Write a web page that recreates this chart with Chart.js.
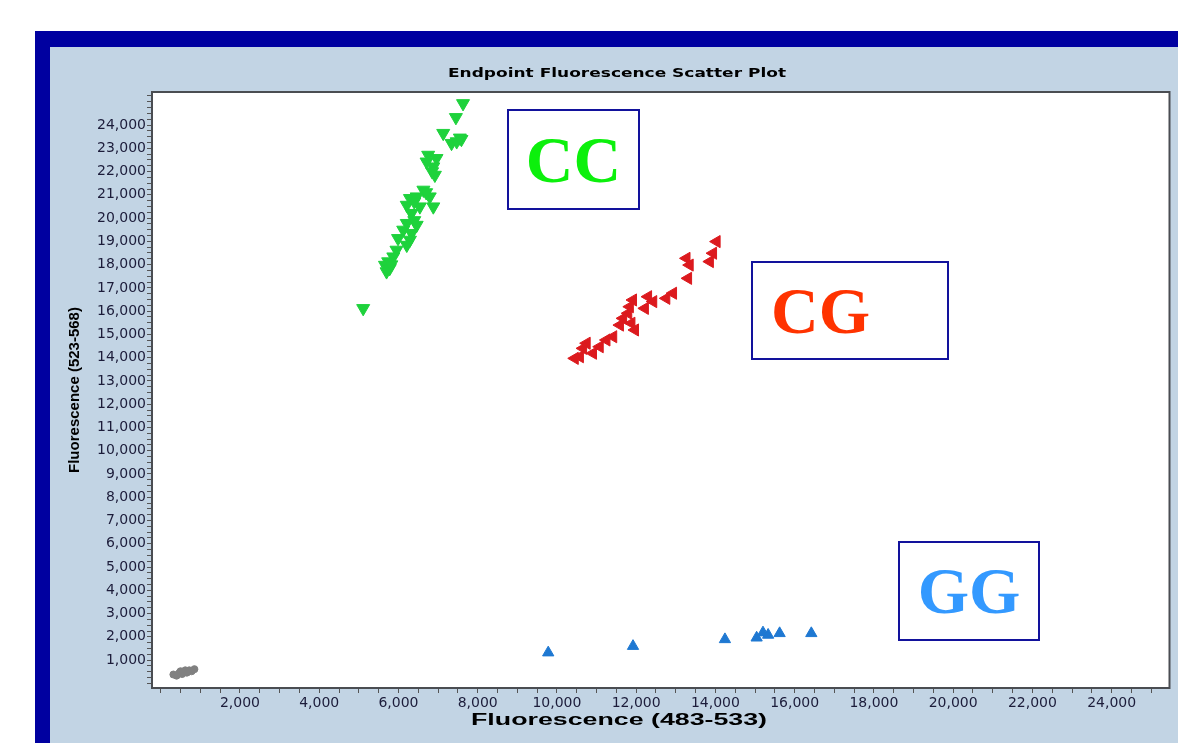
<!DOCTYPE html>
<html>
<head>
<meta charset="utf-8">
<script src="https://cdn.jsdelivr.net/npm/chart.js@4.4.1/dist/chart.umd.min.js"></script>
<style>
  html, body { margin: 0; padding: 0; background: #fff; }
  body { width: 1178px; height: 743px; position: relative; overflow: hidden; }
  .frame { position: absolute; left: 35px; top: 31px; right: 0; bottom: 0; background: #0000a0; }
  .panel { position: absolute; left: 50px; top: 47px; right: 0; bottom: 0; background: #c2d4e4; }
  #wrap { position: absolute; left: 0; top: 0; width: 1178px; height: 743px; }
  .tag {
    position: absolute; box-sizing: border-box; background: #fff;
    border: 2px solid #12129c;
    font-family: "Liberation Serif", "Times New Roman", serif; font-weight: bold;
    font-size: 66px; line-height: 1; display: flex; align-items: center;
  }
</style>
</head>
<body>
<div class="frame"></div>
<div class="panel"></div>
<div id="wrap"><canvas id="scatter" width="1178" height="743"></canvas></div>
<div class="tag" style="left:507px;top:109px;width:133px;height:101px;color:#0cf00c;justify-content:center;">CC</div>
<div class="tag" style="left:751px;top:261px;width:198px;height:99px;color:#ff3300;padding-left:18px;">CG</div>
<div class="tag" style="left:898px;top:541px;width:142px;height:100px;color:#3399ff;justify-content:center;">GG</div>
<script>
// valeurs (fluorescence 483-533 / 523-568)
const ccX = [7630, 7450, 7130, 7340, 7590, 7470, 7550, 6750, 6960, 6880, 6710, 6920, 6850,
  6630, 6290, 6460, 6790, 6880, 6210, 6540, 6330, 6700, 6400, 6210, 6460, 6120, 6330,
  6290, 5990, 6210, 6400, 5950, 5870, 5740, 5660, 5780, 5700, 5820, 5110];
const ccY = [24930, 24330, 23650, 23220, 23390, 23290, 23450, 22710, 22570, 22210, 22420, 21850, 22000,
  21210, 20850, 20920, 20920, 20490, 20560, 20490, 20210, 21100, 20700, 19780, 19700, 19490, 19350,
  19060, 19130, 18840, 19900, 18630, 18340, 18130, 17980, 17840, 17700, 18000, 16120];

const cgX = [14030, 13940, 13860, 13270, 13350, 13310, 12930, 12760, 12300, 12430, 12220, 11920, 11840,
  11800, 11670, 11880, 11590, 11970, 11420, 11250, 11080, 10750, 10660, 10580, 10450, 10910];
const cgY = [18990, 18490, 18130, 18270, 17980, 17410, 16770, 16550, 16620, 16410, 16120, 16480, 16190,
  15910, 15690, 15480, 15400, 15190, 14900, 14760, 14470, 14620, 14400, 14040, 13970, 14190];

const ggX = [9780, 11920, 14240, 15040, 15200, 15330, 15620, 16420];
const ggY = [1320, 1600, 1890, 1960, 2180, 2080, 2150, 2150];

const ntcX = [320, 400, 470, 540, 600, 660, 720, 780, 850, 500, 620];
const ntcY = [380, 330, 450, 400, 500, 460, 560, 520, 610, 520, 560];

// graduations
const xMin = -220, xMax = 25460, xMinorStep = 500, xLabelStep = 2000, xLabelMax = 24000;
const yMin = -200, yMax = 25420, yMinorStep = 250, yLabelStep = 1000, yLabelMax = 24000;

const chartTitle = 'Endpoint Fluorescence Scatter Plot';
const xTitle = 'Fluorescence (483-533)';
const yTitle = 'Fluorescence (523-568)';

function pts(xs, ys) {
  return xs.map((x, i) => ({ x: x, y: ys[i] }));
}

// chart.js recalcule le pas quand min/max ne tombent pas juste, donc on pose les ticks nous-memes
function stepTicks(step) {
  return function (scale) {
    const out = [];
    for (let v = Math.ceil(scale.min / step) * step; v <= scale.max; v += step) out.push({ value: v });
    scale.ticks = out;
  };
}

// texte etire en largeur, comme la capture d'origine
function wideText(c, text, font, cx, cy, width) {
  c.save();
  c.font = font;
  c.fillStyle = '#000';
  c.textAlign = 'center';
  c.textBaseline = 'middle';
  const sx = width / c.measureText(text).width;
  c.translate(cx, cy);
  c.scale(sx, 1);
  c.fillText(text, 0, 0);
  c.restore();
}

const plotBox = {
  id: 'plotBox',
  beforeDraw(chart) {
    const a = chart.chartArea, c = chart.ctx;
    c.save();
    c.fillStyle = '#ffffff';
    c.fillRect(a.left, a.top, a.right - a.left, a.bottom - a.top);
    c.restore();
  },
  afterDraw(chart) {
    const a = chart.chartArea, c = chart.ctx;
    c.save();
    c.strokeStyle = '#4a4d52';
    c.lineWidth = 2;
    c.strokeRect(a.left, a.top, a.right - a.left, a.bottom - a.top);
    c.restore();
    wideText(c, chartTitle, 'bold 13px "DejaVu Sans", Verdana, sans-serif', 617, 74, 338);
    wideText(c, xTitle, 'bold 16px "Liberation Sans", Arial, sans-serif', 619, 721, 296);
  }
};

const tickFont = { family: '"DejaVu Sans", Verdana, sans-serif', size: 14 };

new Chart(document.getElementById('scatter'), {
  type: 'scatter',
  data: {
    datasets: [
      { label: 'CC', data: pts(ccX, ccY), pointStyle: 'triangle', rotation: 180, pointRadius: 7.5,
        backgroundColor: '#1ed23c', borderColor: '#1ed23c' },
      { label: 'CG', data: pts(cgX, cgY), pointStyle: 'triangle', rotation: 270, pointRadius: 7,
        backgroundColor: '#dc1a1e', borderColor: '#dc1a1e' },
      { label: 'GG', data: pts(ggX, ggY), pointStyle: 'triangle', rotation: 0, pointRadius: 6.5,
        backgroundColor: '#1e78d2', borderColor: '#1e78d2' },
      { label: 'NTC', data: pts(ntcX, ntcY), pointStyle: 'circle', pointRadius: 3.5,
        backgroundColor: '#808080', borderColor: '#808080' }
    ]
  },
  options: {
    responsive: false,
    animation: false,
    layout: { padding: { left: 64, right: 8, top: 92, bottom: 0 } },
    plugins: {
      legend: { display: false },
      tooltip: { enabled: false },
      title: { display: false }
    },
    scales: {
      x: {
        type: 'linear',
        min: xMin,
        max: xMax,
        afterBuildTicks: stepTicks(xMinorStep),
        afterFit(scale) { scale.height = 55; },
        grid: { drawOnChartArea: false, tickLength: 5, tickColor: '#555' },
        border: { display: false },
        ticks: {
          autoSkip: false, maxRotation: 0, padding: 2,
          color: '#1c1c3a', font: tickFont,
          callback: v => (v > 0 && v <= xLabelMax && v % xLabelStep === 0) ? v.toLocaleString('en-US') : ''
        }
      },
      y: {
        type: 'linear',
        min: yMin,
        max: yMax,
        afterBuildTicks: stepTicks(yMinorStep),
        afterFit(scale) { scale.width = 88; },
        grid: { drawOnChartArea: false, tickLength: 5, tickColor: '#555' },
        border: { display: false },
        title: {
          display: true,
          text: yTitle,
          color: '#000',
          font: { family: '"Liberation Sans", Arial, sans-serif', size: 15, weight: 'bold' },
          padding: { top: 2, bottom: 0 }
        },
        ticks: {
          autoSkip: false, padding: 1,
          color: '#1c1c3a', font: tickFont,
          callback: v => (v > 0 && v <= yLabelMax && v % yLabelStep === 0) ? v.toLocaleString('en-US') : ''
        }
      }
    }
  },
  plugins: [plotBox]
});
</script>
</body>
</html>
